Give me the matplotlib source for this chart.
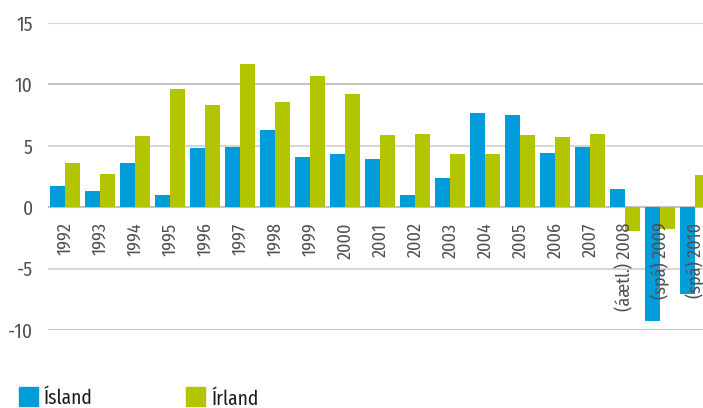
import matplotlib
matplotlib.use('Agg')
import matplotlib.pyplot as plt
from matplotlib.patches import Rectangle
import numpy as np

plt.rcParams['font.family'] = ['Fira Sans Condensed', 'DejaVu Sans']

# gögn
years = ['1992', '1993', '1994', '1995', '1996', '1997', '1998', '1999', '2000',
         '2001', '2002', '2003', '2004', '2005', '2006', '2007',
         '(áætl.) 2008', '(spá) 2009', '(spá) 2010']
island = [1.7, 1.3, 3.6, 1.0, 4.8, 4.9, 6.3, 4.1, 4.3,
          3.9, 1.0, 2.4, 7.7, 7.5, 4.4, 4.9, 1.5, -9.3, -7.1]
irland = [3.6, 2.7, 5.8, 9.6, 8.3, 11.7, 8.6, 10.7, 9.2,
          5.9, 6.0, 4.3, 4.3, 5.9, 5.7, 6.0, -1.9, -1.8, 2.6]
yticks = [-10, -5, 0, 5, 10, 15]

blue = '#009DDA'
green = '#B2C500'
txtcol = '#505050'

fig = plt.figure(figsize=(7.03, 4.08), dpi=100)
ax = fig.add_axes([48 / 703, 1 - 330 / 408, 664.5 / 703, 307 / 408])

x = np.arange(len(years))
w = 15 / 35
ax.bar(x - w / 2, island, w, color=blue, zorder=2)
ax.bar(x + w / 2, irland, w, color=green, zorder=2)

ax.set_xlim(-0.5, len(years) - 0.5)
ax.set_ylim(-10, 15)
ax.set_yticks(yticks)
ax.set_yticklabels([str(t) for t in yticks])
for t in yticks:
    ax.axhline(t, color='#c4c4c4' if t in (0, 10, -10) else '#d6d6d6', lw=1.5, zorder=1)
ax.tick_params(axis='y', length=0, pad=11, labelsize=14, labelcolor=txtcol)
ax.set_xticks([])
for s in ax.spines.values():
    s.set_visible(False)

for xi, lab in zip(x, years):
    ax.annotate(lab, (xi, 0), xytext=(0, -11), textcoords='offset points',
                rotation=90, ha='center', va='top', fontsize=13,
                color=txtcol, zorder=3)

# skýringar
fig.patches.append(Rectangle((19 / 703, 1 - 406 / 408), 19 / 703, 19 / 408,
                             transform=fig.transFigure, color=blue))
fig.text(44 / 703, 1 - 404 / 408, 'Ísland', fontsize=14, color='#1a1a1a', va='baseline')
fig.patches.append(Rectangle((186 / 703, 1 - 406 / 408), 19 / 703, 19 / 408,
                             transform=fig.transFigure, color=green))
fig.text(212 / 703, 1 - 405 / 408, 'Írland', fontsize=14, color='#1a1a1a', va='baseline')

fig.savefig('out.png', dpi=100)
